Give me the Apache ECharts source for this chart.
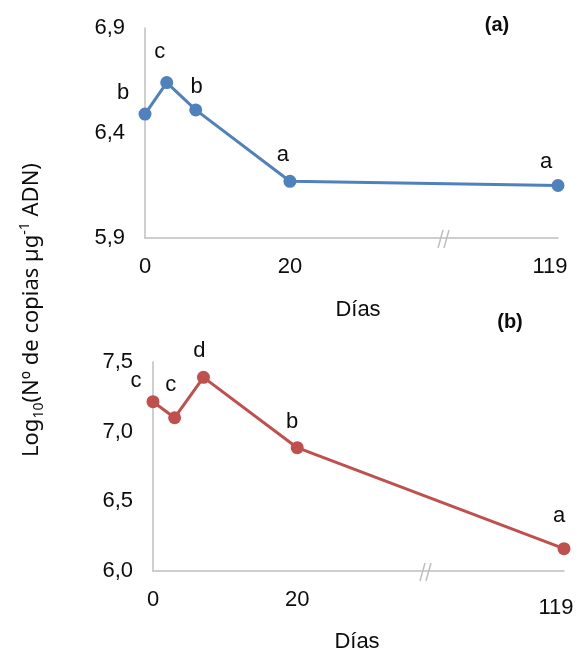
<!DOCTYPE html>
<html>
<head>
<meta charset="utf-8">
<script src="https://cdn.jsdelivr.net/npm/echarts@6/dist/echarts.min.js"></script>
<style>
  html, body { margin: 0; padding: 0; background: #ffffff; }
  #chart { width: 579px; height: 658px; }
</style>
</head>
<body>
<div id="chart"></div>
<script>
// ---- data ----
const days = [0, 3, 7, 20, 119];
const valuesA = [6.49, 6.64, 6.51, 6.17, 6.15];
const valuesB = [7.215, 7.10, 7.39, 6.885, 6.16];
const lettersA = ['b', 'c', 'b', 'a', 'a'];
const lettersB = ['c', 'c', 'd', 'b', 'a'];
const xTickDays = [0, 20, 119];
const yTicksA = [5.9, 6.4, 6.9];
const yTicksB = [6.0, 6.5, 7.0, 7.5];

// ---- label placement (style, not data) ----
const labelOffsetsA = [[-22, -21], [-7, -31], [1, -23], [-7, -26], [-12, -24]];
const labelOffsetsB = [[-17, -21], [-4, -33], [-4, -26], [-5, -26], [-5, -33]];

// broken x axis: linear up to day 20, compressed after the break
const BREAK_AT = 20;
const AXIS_END = 57;
const LAST_DAY = 119;
function axisPos(d) {
  return d <= BREAK_AT ? d : BREAK_AT + (d - BREAK_AT) * (AXIS_END - BREAK_AT) / (LAST_DAY - BREAK_AT);
}
function dayFromPos(p) {
  return p <= BREAK_AT ? p : Math.round(BREAK_AT + (p - BREAK_AT) * (LAST_DAY - BREAK_AT) / (AXIS_END - BREAK_AT));
}

const FONT = '"Liberation Sans", Arial, sans-serif';
const AXIS_COLOR = '#bfbfbf';
const TEXT_COLOR = '#0d0d0d';
const FS = 22;

function xAxisCfg(gridIndex, lastPad) {
  return {
    type: 'value', gridIndex: gridIndex, min: 0, max: AXIS_END,
    axisLine: { show: true, lineStyle: { color: AXIS_COLOR, width: 1.5 } },
    axisTick: { show: false },
    splitLine: { show: false },
    axisLabel: {
      customValues: xTickDays.map(axisPos),
      margin: 18,
      fontFamily: FONT, fontSize: FS, color: TEXT_COLOR,
      formatter: function (v) {
        const d = dayFromPos(v);
        return d === LAST_DAY ? '{far|' + d + '}' : String(d);
      },
      rich: { far: { fontFamily: FONT, fontSize: FS, color: TEXT_COLOR, padding: lastPad } }
    }
  };
}
function yAxisCfg(gridIndex, ticks) {
  return {
    type: 'value', gridIndex: gridIndex,
    min: ticks[0], max: ticks[ticks.length - 1],
    axisLine: { show: true, lineStyle: { color: AXIS_COLOR, width: 1.5 } },
    axisTick: { show: false },
    splitLine: { show: false },
    axisLabel: {
      customValues: ticks,
      margin: 20,
      fontFamily: FONT, fontSize: FS, color: TEXT_COLOR,
      formatter: function (v) { return v.toFixed(1).replace('.', ','); }
    }
  };
}
function seriesCfg(idx, values, letters, offsets, color) {
  return {
    type: 'line', xAxisIndex: idx, yAxisIndex: idx,
    data: days.map(function (d, i) {
      return {
        value: [axisPos(d), values[i]],
        label: { show: true, position: 'inside', offset: offsets[i], formatter: letters[i] }
      };
    }),
    symbol: 'circle', symbolSize: 13,
    itemStyle: { color: color },
    lineStyle: { color: color, width: 3 },
    label: { fontFamily: FONT, fontSize: FS, color: TEXT_COLOR },
    emphasis: { disabled: true },
    animation: false,
    z: 3
  };
}
function breakMark(cx, cy) {
  return {
    type: 'group',
    children: [
      { type: 'line', shape: { x1: cx - 6, y1: cy + 9, x2: cx - 1, y2: cy - 9 }, style: { stroke: AXIS_COLOR, lineWidth: 1.5 } },
      { type: 'line', shape: { x1: cx, y1: cy + 9, x2: cx + 5, y2: cy - 9 }, style: { stroke: AXIS_COLOR, lineWidth: 1.5 } }
    ]
  };
}

const TITLE_FONT = '"Noto Sans", sans-serif';
const chart = echarts.init(document.getElementById('chart'), null, { renderer: 'canvas' });
chart.setOption({
  backgroundColor: '#ffffff',
  animation: false,
  grid: [
    { left: 145, top: 28, width: 413, height: 210 },
    { left: 153, top: 362, width: 411, height: 209 }
  ],
  xAxis: [xAxisCfg(0, [0, 16, 0, 0]), xAxisCfg(1, [8, 16, 0, 0])],
  yAxis: [yAxisCfg(0, yTicksA), yAxisCfg(1, yTicksB)],
  series: [
    seriesCfg(0, valuesA, lettersA, labelOffsetsA, '#4f81bd'),
    seriesCfg(1, valuesB, lettersB, labelOffsetsB, '#c0504d')
  ],
  graphic: [
    breakMark(444, 239),
    breakMark(426, 572),
    { type: 'text', x: 358, y: 310, style: { text: 'Días', fontFamily: FONT, fontSize: FS, fill: TEXT_COLOR, align: 'center', verticalAlign: 'middle' } },
    { type: 'text', x: 357, y: 642, style: { text: 'Días', fontFamily: FONT, fontSize: FS, fill: TEXT_COLOR, align: 'center', verticalAlign: 'middle' } },
    { type: 'text', x: 497, y: 25, style: { text: '(a)', fontFamily: FONT, fontSize: 20, fontWeight: 'bold', fill: TEXT_COLOR, align: 'center', verticalAlign: 'middle' } },
    { type: 'text', x: 510, y: 322, style: { text: '(b)', fontFamily: FONT, fontSize: 20, fontWeight: 'bold', fill: TEXT_COLOR, align: 'center', verticalAlign: 'middle' } },
    {
      type: 'text', x: 32, y: 310, rotation: Math.PI / 2,
      style: {
        text: '{n|Log}{sub|10}{n|(Nº de copias µg}{sup|-1}{n| ADN)}',
        align: 'center', verticalAlign: 'middle',
        rich: {
          n: { fontFamily: TITLE_FONT, fontSize: 22, lineHeight: 28, fill: TEXT_COLOR, color: TEXT_COLOR },
          sub: { fontFamily: TITLE_FONT, fontSize: 14, lineHeight: 14, verticalAlign: 'bottom', fill: TEXT_COLOR, color: TEXT_COLOR },
          sup: { fontFamily: TITLE_FONT, fontSize: 14, lineHeight: 14, verticalAlign: 'top', fill: TEXT_COLOR, color: TEXT_COLOR }
        }
      }
    }
  ]
});
</script>
</body>
</html>
